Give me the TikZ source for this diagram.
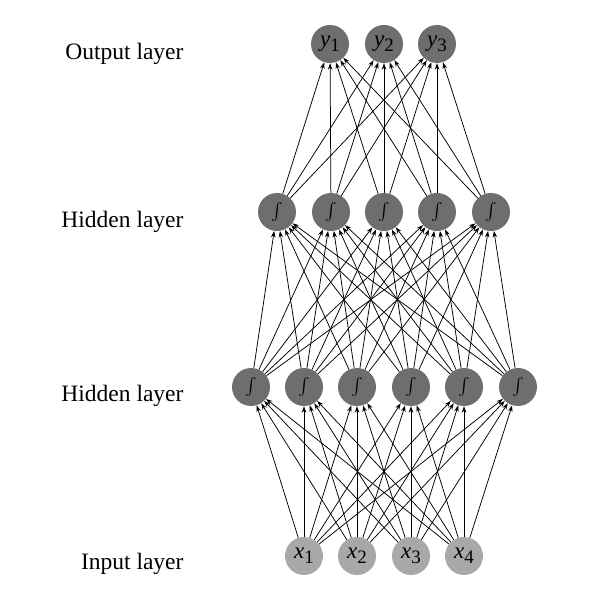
\documentclass[tikz,border=0pt]{standalone}
\usepackage{exscale}
\usepackage{fontspec}
\setmainfont{Liberation Serif}
\usetikzlibrary{arrows.meta}
\definecolor{darknode}{HTML}{6E6E6E}
\definecolor{lightnode}{HTML}{A8A8A8}
\newcommand{\lbl}[2]{\textit{#1}\raisebox{-0.22em}{\fontsize{19}{19}\selectfont #2}}
\newcommand{\act}{$\int$}
\tikzset{
  neuron/.style={circle, fill=darknode, minimum size=38pt, inner sep=0pt, font=\fontsize{23}{23}\selectfont},
  hidneuron/.style={neuron, font=\fontsize{19}{19}\selectfont},
  inneuron/.style={neuron, fill=lightnode},
  layername/.style={anchor=base east, font=\fontsize{23.5}{28}\selectfont},
  link/.style={-{Stealth[length=6.5pt,width=4.5pt]}, line width=0.75pt}
}
\begin{document}
\begin{tikzpicture}[x=1pt,y=1pt]
		\useasboundingbox (0,0) rectangle (590,592);
		
		\node [layername] (lout) at (187,532) {Output layer};
		\node [layername] (lhidb) at (187,364) {Hidden layer};
		\node [layername] (lhida) at (187,190) {Hidden layer};
		\node [layername] (lin) at (187,22) {Input layer};
		
		% input layer
		\node [inneuron] (x1) at (304,36) {\lbl{x}{1}};
		\node [inneuron] (x2) at (357,36) {\lbl{x}{2}};
		\node [inneuron] (x3) at (411,36) {\lbl{x}{3}};
		\node [inneuron] (x4) at (464,36) {\lbl{x}{4}};
		
		% first hidden layer
		\node [hidneuron] (a1) at (251,205) {\act};
		\node [hidneuron] (a2) at (304,205) {\act};
		\node [hidneuron] (a3) at (357,205) {\act};
		\node [hidneuron] (a4) at (411,205) {\act};
		\node [hidneuron] (a5) at (464,205) {\act};
		\node [hidneuron] (a6) at (518,205) {\act};
		
		% second hidden layer
		\node [hidneuron] (b1) at (277,380) {\act};
		\node [hidneuron] (b2) at (331,380) {\act};
		\node [hidneuron] (b3) at (384,380) {\act};
		\node [hidneuron] (b4) at (437,380) {\act};
		\node [hidneuron] (b5) at (491,380) {\act};
		
		% output layer
		\node [neuron] (y1) at (330,548) {\lbl{y}{1}};
		\node [neuron] (y2) at (384,548) {\lbl{y}{2}};
		\node [neuron] (y3) at (437,548) {\lbl{y}{3}};
		
		\foreach \i in {1,...,4}
			\foreach \j in {1,...,6}
				\draw [link] (x\i) -- (a\j);
		\foreach \i in {1,...,6}
			\foreach \j in {1,...,5}
				\draw [link] (a\i) -- (b\j);
		\foreach \i in {1,...,5}
			\foreach \j in {1,...,3}
				\draw [link] (b\i) -- (y\j);
		
		\end{tikzpicture}
\end{document}
